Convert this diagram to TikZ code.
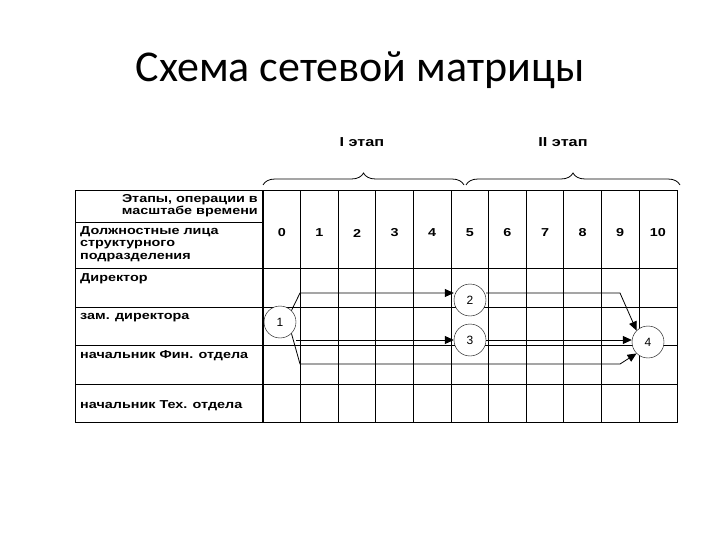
\documentclass[tikz,border=0pt]{standalone}
\usepackage{fontspec}
\setmainfont{Liberation Sans}
\newfontfamily\titlefont{Carlito}
\newfontfamily\cellfont[FakeStretch=1.25]{Liberation Sans}
\usetikzlibrary{decorations.pathreplacing,arrows.meta}
\begin{document}
\begin{tikzpicture}[x=1pt,y=1pt,
  cell/.style={font=\cellfont\bfseries\fontsize{11.5}{12.5}\selectfont},
  ev/.style={circle,draw,fill=white,minimum size=32pt,inner sep=0pt,font=\fontsize{12}{12}\selectfont},
  arr/.style={line width=0.8pt,-{Triangle[length=9pt,width=8pt]}},
  br/.style={decorate,decoration={brace,amplitude=12pt},line width=0.8pt}]
\useasboundingbox (0,0) rectangle (720,-540);
\node[font=\titlefont\fontsize{44}{46}\selectfont] (title) at (360,-70) {Схема сетевой матрицы};
% grid
\draw[line width=1pt] (75,-191) rectangle (677,-422);
\foreach \y in {268,307,345,384} \draw[line width=0.8pt] (75,-\y) -- (677,-\y);
\draw[line width=0.8pt] (75,-222) -- (263,-222);
\draw[line width=1.2pt] (263,-191) -- (263,-422);
\foreach \i in {1,...,10} \draw[line width=0.8pt] (263+\i*37.6,-191) -- (263+\i*37.6,-422);
\foreach \i in {0,...,10} \node[cell] at (263+\i*37.6+18.8,-233) {\i};
\node[cell,align=right,anchor=north east,inner sep=0pt] at (258,-194) {Этапы, операции в\\масштабе времени};
\node[cell,align=left,anchor=north west,inner sep=0pt] at (80,-226) {Должностные лица\\структурного\\подразделения};
\node[cell,anchor=north west,inner sep=0pt] at (80,-273) {Директор};
\node[cell,anchor=north west,inner sep=0pt] at (80,-313) {зам. директора};
\node[cell,anchor=north west,inner sep=0pt] at (80,-350) {начальник Фин. отдела};
\node[cell,anchor=west,inner sep=0pt] at (80,-406) {начальник Тех. отдела};
% braces
\draw[br] (263,-185) -- (464,-185);
\draw[br] (466,-185) -- (680,-185);
\node[font=\cellfont\bfseries\fontsize{13}{14}\selectfont] (s1) at (362,-142) {I этап};
\node[font=\cellfont\bfseries\fontsize{13}{14}\selectfont] (s2) at (563,-142) {II этап};
% events
\node[ev] (e1) at (280,-322) {1};
\node[ev] (e2) at (470,-300) {2};
\node[ev] (e3) at (470,-340) {3};
\node[ev] (e4) at (648,-342) {4};
\coordinate (a1) at (300,-293);
\coordinate (a2) at (300,-364);
\coordinate (b1) at (620,-293);
\coordinate (b2) at (620,-364);
\draw[arr] (e1.north east) -- (a1) -- (e2.west |- a1);
\draw[arr] (e1.east |- e3) -- (e3.west);
\draw[arr] (e1.south east) -- (a2) -- (b2) -- (e4.south west);
\draw[arr] (e2.east |- b1) -- (b1) -- (e4.north west);
\draw[arr] (e3.east) -- (e4.west |- e3);
\end{tikzpicture}
\end{document}
